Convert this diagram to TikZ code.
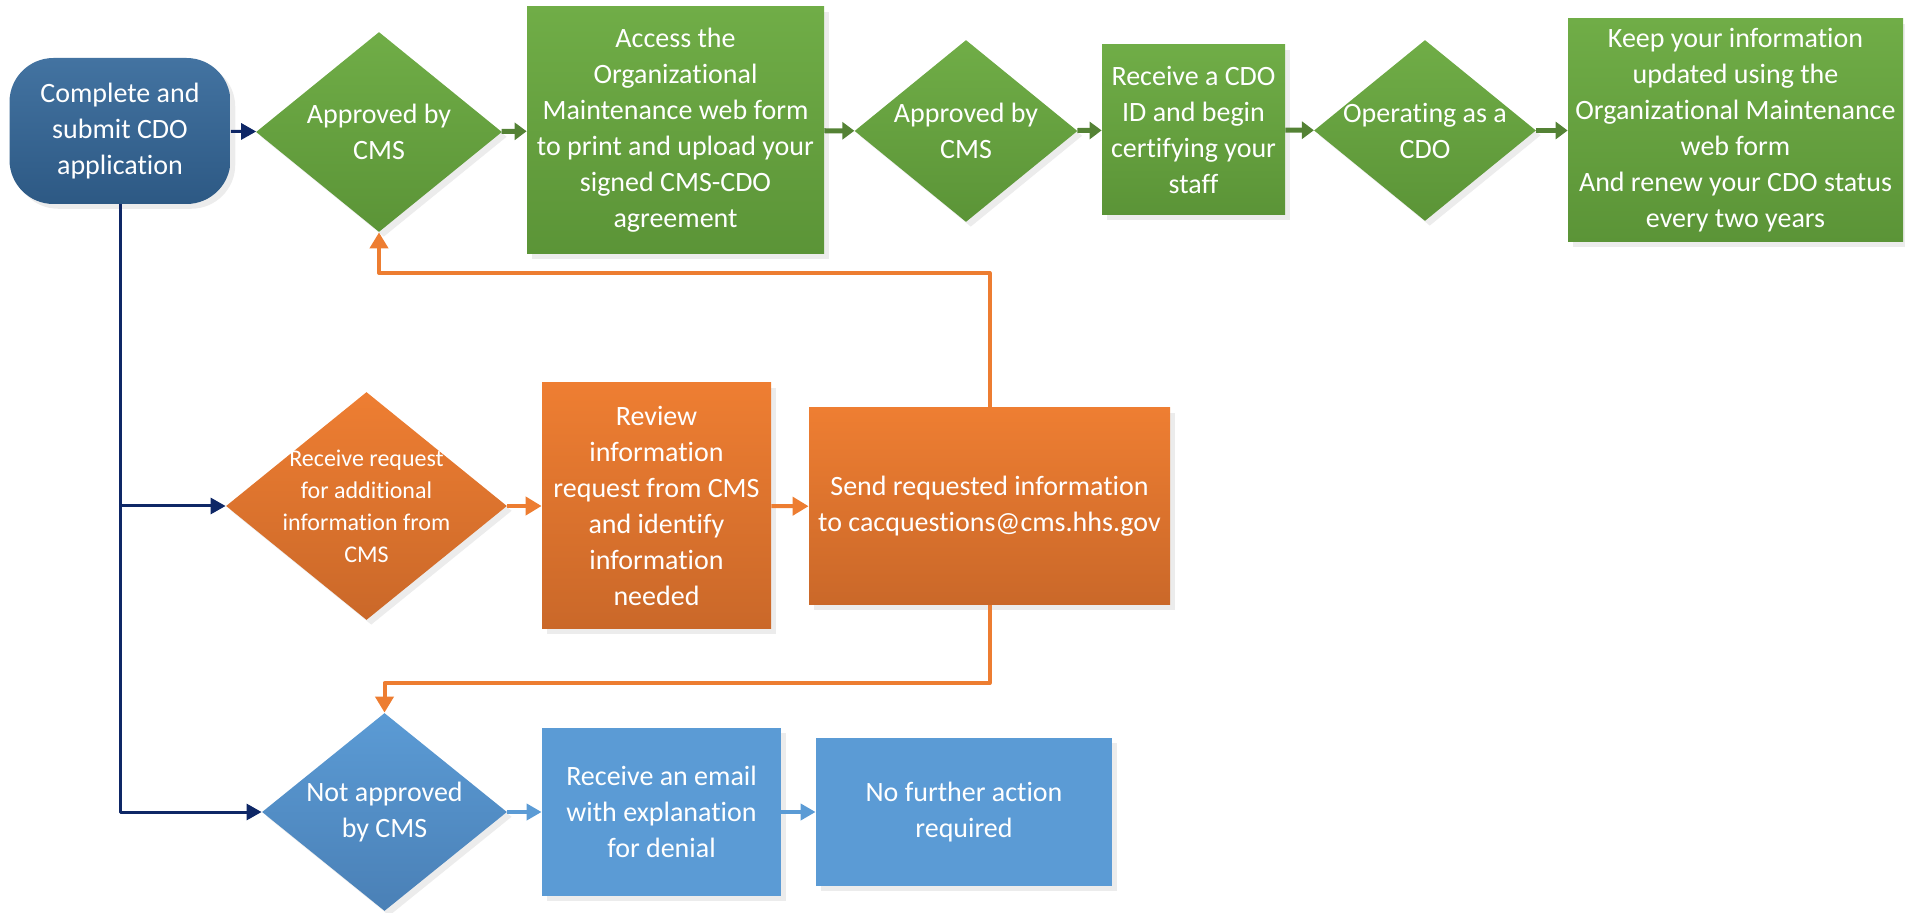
\documentclass[tikz,border=0pt]{standalone}
\usepackage{fontspec}
\setmainfont{Carlito}[Ligatures=NoCommon]
\usetikzlibrary{shapes.geometric,arrows.meta,shadows}
\definecolor{startA}{HTML}{4373A1}
\definecolor{startB}{HTML}{2D5984}
\definecolor{greenA}{HTML}{70AD47}
\definecolor{greenB}{HTML}{5B9437}
\definecolor{orangeA}{HTML}{EE7E32}
\definecolor{orangeB}{HTML}{CA6829}
\definecolor{blueA}{HTML}{5B9BD5}
\definecolor{blueB}{HTML}{4A80B6}
\definecolor{navyline}{HTML}{0E2766}
\definecolor{greenline}{HTML}{548235}
\definecolor{orangeline}{HTML}{ED7D31}
\definecolor{blueline}{HTML}{5B9BD5}
\begin{document}
\begin{tikzpicture}[x=0.5pt, y=-0.5pt, font=\fontsize{14}{18}\selectfont, line join=round,
	box/.style={rectangle, inner sep=2pt, align=center, text=white, drop shadow={opacity=.15}},
	dia/.style={diamond, inner sep=0pt, drop shadow={opacity=.15}},
	txt/.style={align=center, text=white, inner sep=0pt},
	greenbox/.style={box, top color=greenA, bottom color=greenB},
	orangebox/.style={box, top color=orangeA, bottom color=orangeB},
	bluebox/.style={box, fill=blueA},
	greendia/.style={dia, top color=greenA, bottom color=greenB},
	orangedia/.style={dia, top color=orangeA, bottom color=orangeB},
	bluedia/.style={dia, top color=blueA, bottom color=blueB},
	navyarr/.style={draw=navyline, line width=1.5pt, -{Triangle[length=7.5pt,width=8pt]}},
	greenarr/.style={draw=greenline, line width=2.5pt, -{Triangle[length=6pt,width=8.5pt]}},
	orangearr/.style={draw=orangeline, line width=2pt, -{Triangle[length=8pt,width=9pt]}},
	bluearr/.style={draw=blueline, line width=2pt, -{Triangle[length=7.5pt,width=8pt]}}]
	\useasboundingbox (0,0) rectangle (1905,913);
	% start
	\node[box, rounded corners=22pt, top color=startA, bottom color=startB, minimum width=110.5pt, minimum height=73pt] (start) at (120,131) {Complete and\\submit CDO\\application};
	% approved path
	\node[greendia, minimum width=123pt, minimum height=100pt] (d1) at (379,132) {};
	\node[txt] (d1t) at (d1) {Approved by\\CMS};
	\node[greenbox, minimum width=148.5pt, minimum height=123.5pt] (b1) at (675.5,130.5) {Access the\\Organizational\\Maintenance web form\\to print and upload your\\signed CMS-CDO\\agreement};
	\node[greendia, minimum width=111.5pt, minimum height=91pt] (d2) at (966,131) {};
	\node[txt] (d2t) at (d2) {Approved by\\CMS};
	\node[greenbox, minimum width=91.5pt, minimum height=85pt] (b2) at (1193.5,130) {Receive a CDO\\ID and begin\\certifying your\\staff};
	\node[greendia, minimum width=111pt, minimum height=90.5pt] (d3) at (1425,130.5) {};
	\node[txt] (d3t) at (d3) {Operating as a\\CDO};
	\node[greenbox, minimum width=167.5pt, minimum height=111.5pt] (b3) at (1735.5,130.5) {Keep your information\\updated using the\\Organizational Maintenance\\web form\\And renew your CDO status\\every two years};
	% more information path
	\node[orangedia, minimum width=140.5pt, minimum height=114pt] (d4) at (366.5,506) {};
	\node[txt, font=\fontsize{12}{16}\selectfont] (d4t) at (d4) {Receive request\\for additional\\information from\\CMS};
	\node[orangebox, minimum width=114.5pt, minimum height=123pt] (b4) at (656.5,506) {Review\\information\\request from CMS\\and identify\\information\\needed};
	\node[orangebox, minimum width=180.5pt, minimum height=98.5pt] (b5) at (989.5,506.5) {Send requested information\\to cacquestions@cms.hhs.gov};
	% denial path
	\node[bluedia, minimum width=122.5pt, minimum height=99pt] (d5) at (384.5,812) {};
	\node[txt] (d5t) at (d5) {Not approved\\by CMS};
	\node[bluebox, minimum width=119.5pt, minimum height=84pt] (b6) at (661.5,812) {Receive an email\\with explanation\\for denial};
	\node[bluebox, minimum width=148pt, minimum height=74pt] (b7) at (964,812) {No further action\\required};
	\coordinate (loopup) at (989.5,273);
	\coordinate (loopdn) at (989.5,683);
	% connectors
	\draw[navyarr] (start) -- (d1);
	\draw[navyarr] (start.south) -- (start.south |- d5.west) -- (d5.west);
	\draw[navyarr] (start.south |- d4.west) -- (d4.west);
	\draw[greenarr] (d1) -- (b1);
	\draw[greenarr] (b1) -- (d2);
	\draw[greenarr] (d2) -- (b2);
	\draw[greenarr] (b2) -- (d3);
	\draw[greenarr] (d3) -- (b3);
	\draw[orangearr] (d4) -- (b4);
	\draw[orangearr] (b4) -- (b5);
	\draw[orangearr] (b5.north) -- (loopup) -- (d1.south |- loopup) -- (d1.south);
	\draw[orangearr] (b5.south) -- (loopdn) -- (d5.north |- loopdn) -- (d5.north);
	\draw[bluearr] (d5) -- (b6);
	\draw[bluearr] (b6) -- (b7);
\end{tikzpicture}
\end{document}
